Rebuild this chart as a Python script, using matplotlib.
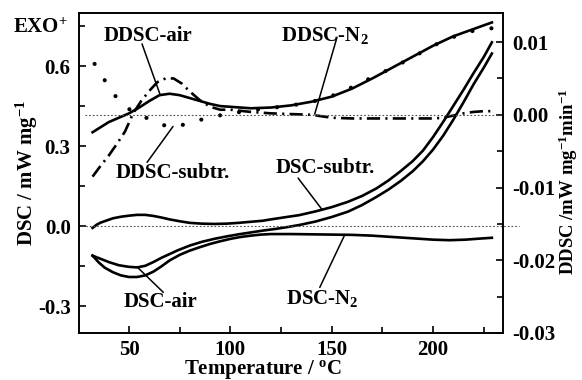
# DSC / DDSC curves in air and N2, with the subtracted signal
import matplotlib
matplotlib.use("Agg")
import matplotlib.pyplot as plt
from matplotlib.ticker import MultipleLocator

# ---- data ----
# DSC (left axis, mW/mg)
T_dsc_subtr = [32, 34, 36, 39, 42, 46, 50, 54, 58, 62, 66, 70, 75, 80, 86, 92, 98, 104, 110, 116,
               120, 126, 134, 142, 150, 158, 165, 172, 178, 184, 190, 195, 200, 205, 210, 215, 220, 225, 229]
dsc_subtr = [-0.006, 0.006, 0.014, 0.022, 0.030, 0.036, 0.040, 0.043, 0.043, 0.039, 0.033, 0.026, 0.019,
             0.013, 0.010, 0.009, 0.010, 0.013, 0.017, 0.021, 0.026, 0.033, 0.042, 0.056, 0.072, 0.092,
             0.114, 0.142, 0.172, 0.207, 0.245, 0.284, 0.335, 0.392, 0.452, 0.512, 0.575, 0.635, 0.690]

T_dsc_air = [32, 36, 40, 45, 50, 54, 58, 62, 66, 70, 74, 80, 86, 92, 98, 104, 110, 116, 122, 128, 134,
             142, 150, 158, 165, 172, 178, 184, 190, 195, 200, 205, 210, 215, 220, 225, 229]
dsc_air = [-0.110, -0.122, -0.134, -0.146, -0.152, -0.154, -0.148, -0.134, -0.118, -0.104, -0.090,
           -0.072, -0.058, -0.047, -0.038, -0.030, -0.023, -0.016, -0.010, -0.003, 0.005, 0.018, 0.035,
           0.055, 0.080, 0.110, 0.138, 0.170, 0.207, 0.244, 0.288, 0.340, 0.400, 0.465, 0.533, 0.595, 0.648]

T_dsc_n2 = [32, 35, 38, 42, 46, 50, 54, 58, 62, 66, 70, 75, 80, 85, 90, 95, 100, 105, 110, 115, 120,
            130, 140, 150, 160, 170, 180, 190, 200, 208, 216, 223, 229]
dsc_n2 = [-0.110, -0.135, -0.155, -0.172, -0.184, -0.190, -0.190, -0.184, -0.170, -0.150, -0.128,
          -0.107, -0.091, -0.078, -0.066, -0.056, -0.047, -0.040, -0.035, -0.031, -0.029, -0.029,
          -0.030, -0.031, -0.032, -0.035, -0.040, -0.045, -0.050, -0.052, -0.050, -0.046, -0.043]

# DDSC (right axis, mW/mg/min)
T_ddsc_air = [32, 36, 40, 45, 50, 55, 60, 65, 70, 75, 80, 85, 90, 95, 100, 110, 120, 130, 140, 150,
              160, 170, 180, 190, 200, 210, 220, 229]
ddsc_air = [-0.0024, -0.0017, -0.0010, -0.0004, 0.0002, 0.0010, 0.0019, 0.0027, 0.0029, 0.0027,
            0.0023, 0.0019, 0.0015, 0.0012, 0.0011, 0.0009, 0.0010, 0.0013, 0.0018, 0.0025, 0.0036,
            0.0050, 0.0065, 0.0080, 0.0095, 0.0108, 0.0118, 0.0127]

T_ddsc_n2 = [32, 36, 40, 44, 48, 52, 56, 60, 64, 68, 72, 76, 80, 85, 90, 95, 100, 110, 120, 130, 140,
             150, 160, 170, 180, 190, 200, 205, 210, 215, 220, 225, 229]
ddsc_n2 = [-0.0085, -0.0070, -0.0056, -0.0040, -0.0023, 0.0002, 0.0019, 0.0033, 0.0045, 0.0050,
           0.0050, 0.0043, 0.0032, 0.0020, 0.0011, 0.0007, 0.0007, 0.0004, 0.0002, 0.0001, 0.0000,
           -0.0004, -0.0005, -0.0005, -0.0005, -0.0005, -0.0005, -0.0004, -0.0001, 0.0002, 0.0004,
           0.0005, 0.0005]

T_ddsc_subtr = [33, 36, 40, 44, 48, 52, 56, 60, 65, 70, 75, 80, 85, 90, 96, 105, 115, 125, 135, 145,
                155, 165, 175, 185, 195, 205, 215, 222, 229]
ddsc_subtr = [0.0070, 0.0056, 0.0039, 0.0023, 0.0012, 0.0004, -0.0001, -0.0006, -0.0012, -0.0017,
              -0.0015, -0.0011, -0.0007, -0.0004, 0.0000, 0.0004, 0.0008, 0.0011, 0.0015, 0.0021,
              0.0031, 0.0045, 0.0058, 0.0072, 0.0087, 0.0102, 0.0112, 0.0117, 0.0119]

left_ticks = [-0.3, 0.0, 0.3, 0.6]
left_ticklabels = ["-0.3", "0.0", "0.3", "0.6"]
right_ticks = [-0.03, -0.02, -0.01, 0.00, 0.01]
right_ticklabels = ["-0.03", "-0.02", "-0.01", "0.00", "0.01"]

# ---- style ----
plt.rcParams["font.family"] = ["Liberation Serif", "DejaVu Serif"]
plt.rcParams["font.weight"] = "bold"
plt.rcParams["axes.labelweight"] = "bold"
plt.rcParams["mathtext.fontset"] = "custom"
plt.rcParams["mathtext.rm"] = "Liberation Serif:bold"
plt.rcParams["mathtext.bf"] = "Liberation Serif:bold"
plt.rcParams["mathtext.it"] = "Liberation Serif:bold"
plt.rcParams["mathtext.default"] = "rm"

fig = plt.figure(figsize=(5.82, 3.80), dpi=100)
ax = fig.add_axes([0.1357, 0.1237, 0.7286, 0.8421])
ax2 = ax.twinx()

lw = 1.9
ax.plot(T_dsc_subtr, dsc_subtr, color="k", lw=lw)
ax.plot(T_dsc_air, dsc_air, color="k", lw=lw)
ax.plot(T_dsc_n2, dsc_n2, color="k", lw=lw)

ax2.plot(T_ddsc_air, ddsc_air, color="k", lw=lw)
ax2.plot(T_ddsc_n2, ddsc_n2, color="k", lw=lw, ls=(0, (5, 2, 0.8, 2)))
ax2.plot(T_ddsc_subtr, ddsc_subtr, color="k", lw=3.0, ls=(0, (0.01, 4.6)), dash_capstyle="round")

# zero reference lines
ax.axhline(0, xmin=0.007, xmax=1.038, clip_on=False, color="0.3", lw=0.8, ls=(0, (1.5, 1.8)))
ax2.axhline(0, xmin=0.014, xmax=1.0, color="0.3", lw=0.8, ls=(0, (1.5, 1.8)))

ax.set_xlim(25.3, 234.5)
ax.set_ylim(-0.4, 0.8)
ax2.set_ylim(-0.03, 0.014)

ax.set_xticks([50, 100, 150, 200])
ax.xaxis.set_minor_locator(MultipleLocator(25))
ax.set_yticks(left_ticks)
ax.set_yticklabels(left_ticklabels)
ax.yaxis.set_minor_locator(MultipleLocator(0.15))
ax2.set_yticks(right_ticks)
ax2.set_yticklabels(right_ticklabels)
ax2.yaxis.set_minor_locator(MultipleLocator(0.005))

for a in (ax, ax2):
    a.tick_params(which="both", direction="in", width=1.2, labelsize=15)
    a.tick_params(which="major", length=5)
    a.tick_params(which="minor", length=4)
    for s in a.spines.values():
        s.set_linewidth(1.2)
ax.tick_params(axis="y", pad=6)
ax.tick_params(axis="x", pad=5)
ax2.tick_params(axis="y", pad=7)

ax.set_xlabel("Temperature / $^{o}$C", fontsize=15, fontweight="bold")
ax.xaxis.set_label_coords(0.434, -0.1156)
ax.xaxis.label.set_va("center")

ax.set_ylabel("DSC / mW mg$^{-1}$", fontsize=15, fontweight="bold")
ax.yaxis.set_label_coords(-0.1226, 0.5)
ax.yaxis.label.set_va("center")
ax.yaxis.label.set_ha("center")

ax2.set_ylabel("DDSC /mW mg$^{-1}$min$^{-1}$", fontsize=13.5, fontweight="bold")
ax2.yaxis.set_label_coords(1.1533, 0.472)
ax2.yaxis.label.set_va("center")
ax2.yaxis.label.set_ha("center")

fig.text(13 / 582, 1 - 28 / 380, "EXO$^{+}$", ha="left", va="center", fontsize=15)

# curve labels with pointer lines
fs = 15
ax.text(59.4, 0.715, "DDSC-air", ha="center", va="center", fontsize=fs)
ax.text(71.7, 0.201, "DDSC-subtr.", ha="center", va="center", fontsize=fs)
ax.text(146.6, 0.715, "DDSC-N$_2$", ha="center", va="center", fontsize=fs)
ax.text(146.8, 0.218, "DSC-subtr.", ha="center", va="center", fontsize=fs)
ax.text(65.3, -0.284, "DSC-air", ha="center", va="center", fontsize=fs)
ax.text(145.6, -0.269, "DSC-N$_2$", ha="center", va="center", fontsize=fs)

ptr = dict(arrowstyle="-", color="k", lw=1.1, shrinkA=0, shrinkB=0)
ax2.annotate("", xy=(65.3, 0.0028), xytext=(56.4, 0.684), textcoords=ax.transData, arrowprops=ptr)
ax2.annotate("", xy=(71.7, -0.0016), xytext=(58.9, 0.24), textcoords=ax.transData, arrowprops=ptr)
ax2.annotate("", xy=(141.6, 0.0001), xytext=(152.6, 0.709), textcoords=ax.transData, arrowprops=ptr)
ax.annotate("", xy=(145, 0.065), xytext=(133.4, 0.181), arrowprops=ptr)
ax.annotate("", xy=(53.8, -0.151), xytext=(66.9, -0.2475), arrowprops=ptr)
ax.annotate("", xy=(156.4, -0.032), xytext=(144.1, -0.229), arrowprops=ptr)

fig.savefig("out.png", dpi=100)
